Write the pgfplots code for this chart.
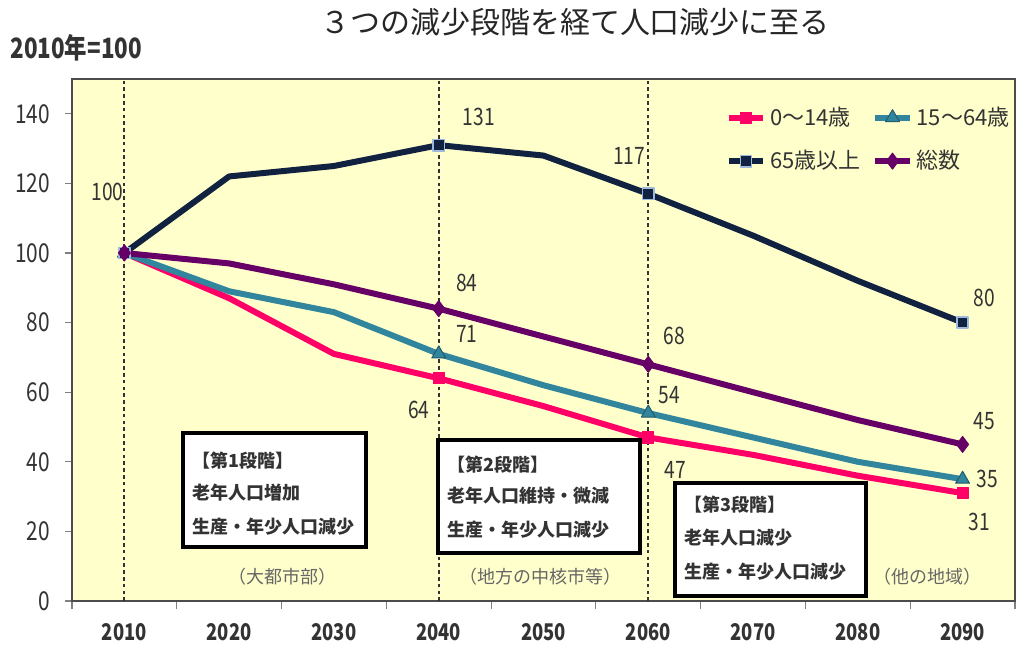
\documentclass[border=0pt]{standalone}
\usepackage{pgfplots}
\pgfplotsset{compat=1.18}
\usepackage{fontspec}
\setmainfont{Noto Sans CJK JP}
\usepackage{graphicx}
\definecolor{cpink}{HTML}{FF0066}
\definecolor{cteal}{HTML}{31859C}
\definecolor{cnavy}{HTML}{112240}
\definecolor{cpurple}{HTML}{660066}
\definecolor{bgyellow}{HTML}{FFFFCC}
\definecolor{cltblue}{HTML}{9DB9DD}
\definecolor{txt}{HTML}{333333}
\newcommand\cnd[1]{\scalebox{0.8}[1]{#1}}
\newcommand\dl[1]{\fontsize{12}{12}\selectfont\cnd{#1}}
\begin{document}
\begin{tikzpicture}
\useasboundingbox (0,0) rectangle (509.5pt,-323.5pt);
\begin{axis}[
  at={(36pt,-300.5pt)}, anchor=south west,
  width=471.5pt, height=261pt, scale only axis,
  xmin=2005, xmax=2095, ymin=0, ymax=150,
  clip=false,
  axis background/.style={fill=bgyellow},
  axis line style={draw=black!70, line width=0.8pt},
  xtick={2010,2020,...,2090},
  minor xtick={2005,2015,...,2095},
  major x tick style={draw=none},
  minor x tick style={draw=black!50, line width=0.6pt},
  minor tick length=4pt,
  ytick={0,20,...,140},
  y tick style={draw=black!50, line width=0.6pt},
  major tick length=3.5pt,
  tick align=outside,
  xtick pos=bottom, ytick pos=left,
  extra x ticks={2010,2040,2060},
  extra x tick labels={},
  extra x tick style={grid=major, major grid style={black!80, line width=0.9pt, dash pattern=on 1.8pt off 1.6pt}, major tick length=0pt},
  /pgf/number format/assume math mode=true,
  xticklabel={\cnd{\pgfmathprintnumber[1000 sep={},fixed,precision=0]{\tick}}},
  yticklabel={\cnd{\pgfmathprintnumber[fixed,precision=0]{\tick}}},
  xticklabel style={font=\fontsize{11.5}{11.5}\selectfont\bfseries, text=txt, yshift=-4pt},
  yticklabel style={font=\fontsize{13}{13}\selectfont, text=txt, xshift=-4pt},
  legend columns=2,
  legend style={at={(0.693,0.955)}, anchor=north west, draw=none, fill=none,
    font=\fontsize{11}{11}\selectfont, text=txt, row sep=7pt, inner sep=0pt,
    /tikz/every odd column/.append style={column sep=0pt},
    /tikz/every even column/.append style={column sep=4pt}},
  legend cell align=left,
  legend image code/.code={\draw[mark indices={2}] plot coordinates {(0cm,0cm) (0.3cm,0cm) (0.6cm,0cm)};},
  every axis plot/.append style={line width=3pt, line join=round, mark indices={1,4,6,9}},
]
\addplot[cpink, mark=square*, mark size=2.8pt, mark options={solid, fill=cpink, draw=cpink, line width=0.5pt}]
coordinates {(2010,100) (2020,87) (2030,71) (2040,64) (2050,56) (2060,47) (2070,42) (2080,36) (2090,31)};
\addplot[cteal, mark=triangle*, mark size=4pt, mark options={solid, fill=cteal, draw=cteal!70!black, line width=0.5pt}]
coordinates {(2010,100) (2020,89) (2030,83) (2040,71) (2050,62) (2060,54) (2070,47) (2080,40) (2090,35)};
\addplot[cnavy, mark=square*, mark size=2.8pt, mark options={solid, fill=cnavy, draw=cltblue, line width=0.8pt}]
coordinates {(2010,100) (2020,122) (2030,125) (2040,131) (2050,128) (2060,117) (2070,105) (2080,92) (2090,80)};
\addplot[cpurple, mark=diamond*, mark size=4pt, mark options={solid, fill=cpurple, draw=cpurple, line width=0.5pt}]
coordinates {(2010,100) (2020,97) (2030,91) (2040,84) (2050,76) (2060,68) (2070,60) (2080,52) (2090,45)};
\legend{0～14歳, 15～64歳, 65歳以上, 総数}
\node[text=txt] at ([shift={(-8.5pt,30.5pt)}]axis cs:2010,100) {\dl{100}};
\node[text=txt] at ([shift={(20pt,14pt)}]axis cs:2040,131) {\dl{131}};
\node[text=txt] at ([shift={(14pt,13pt)}]axis cs:2040,84) {\dl{84}};
\node[text=txt] at ([shift={(14pt,10pt)}]axis cs:2040,71) {\dl{71}};
\node[text=txt] at ([shift={(-10pt,-16pt)}]axis cs:2040,64) {\dl{64}};
\node[text=txt] at ([shift={(-9.5pt,19pt)}]axis cs:2060,117) {\dl{117}};
\node[text=txt] at ([shift={(13pt,14pt)}]axis cs:2060,68) {\dl{68}};
\node[text=txt] at ([shift={(10.5pt,9pt)}]axis cs:2060,54) {\dl{54}};
\node[text=txt] at ([shift={(13.5pt,-16.5pt)}]axis cs:2060,47) {\dl{47}};
\node[text=txt] at ([shift={(11pt,12.5pt)}]axis cs:2090,80) {\dl{80}};
\node[text=txt] at ([shift={(11pt,11.5pt)}]axis cs:2090,45) {\dl{45}};
\node[text=txt] at ([shift={(12.5pt,0pt)}]axis cs:2090,35) {\dl{35}};
\node[text=txt] at ([shift={(8.5pt,-14.5pt)}]axis cs:2090,31) {\dl{31}};
\end{axis}
% title and unit
\node[font=\fontsize{15}{15}\selectfont, text=black!85] at (287.5pt,-11pt) {３つの減少段階を経て人口減少に至る};
\node[font=\fontsize{14}{14}\selectfont\bfseries, text=txt, anchor=west, inner sep=0pt] at (5pt,-24pt) {\scalebox{0.8}[1]{2010年=100}};
% stage boxes
\tikzset{stagebox/.style={draw=black, line width=2pt, fill=white},
  stagetxt/.style={anchor=west, inner sep=0pt, font=\fontsize{9}{9}\selectfont\bfseries, text=txt}}
\draw[stagebox] (91.5pt,-216.5pt) rectangle (183pt,-273.5pt);
\node[stagetxt] at (96pt,-230.5pt) {【第1段階】};
\node[stagetxt] at (96pt,-246.5pt) {老年人口増加};
\node[stagetxt] at (96pt,-263.5pt) {生産・年少人口減少};
\draw[stagebox] (219pt,-220pt) rectangle (320pt,-276.5pt);
\node[stagetxt] at (223.5pt,-232.5pt) {【第2段階】};
\node[stagetxt] at (223.5pt,-248pt) {老年人口維持・微減};
\node[stagetxt] at (223.5pt,-265pt) {生産・年少人口減少};
\draw[stagebox] (337.5pt,-241.5pt) rectangle (433pt,-298pt);
\node[stagetxt] at (342pt,-252.5pt) {【第3段階】};
\node[stagetxt] at (342pt,-269pt) {老年人口減少};
\node[stagetxt] at (342pt,-286pt) {生産・年少人口減少};
% region labels
\tikzset{region/.style={font=\fontsize{9}{9}\selectfont, text=black!60}}
\node[region] at (141pt,-288.5pt) {（大都市部）};
\node[region] at (270pt,-288.5pt) {（地方の中核市等）};
\node[region] at (463.5pt,-288.5pt) {（他の地域）};
\end{tikzpicture}
\end{document}
